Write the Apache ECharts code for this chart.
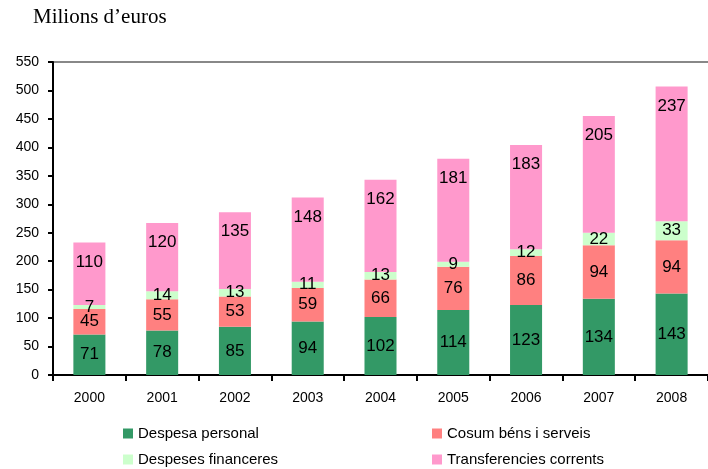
<!DOCTYPE html>
<html>
<head>
<meta charset="utf-8">
<script src="https://cdn.jsdelivr.net/npm/echarts@6/dist/echarts.min.js"></script>
<style>
  html, body { margin: 0; padding: 0; background: #fff; }
  #chart { width: 708px; height: 469px; }
</style>
</head>
<body>
<div id="chart"></div>
<script>
// years on the x axis
const years = ['2000', '2001', '2002', '2003', '2004', '2005', '2006', '2007', '2008'];

// stacked series, bottom to top
const despesaPersonal = [71, 78, 85, 94, 102, 114, 123, 134, 143];
const cosumBens = [45, 55, 53, 59, 66, 76, 86, 94, 94];
const despesesFinanceres = [7, 14, 13, 11, 13, 9, 12, 22, 33];
const transferencies = [110, 120, 135, 148, 162, 181, 183, 205, 237];

const seriesNames = ['Despesa personal', 'Cosum béns i serveis', 'Despeses financeres', 'Transferencies corrents'];
const seriesColors = ['#339966', '#ff8080', '#ccffcc', '#ff99cc'];

const chart = echarts.init(document.getElementById('chart'));

function makeSeries(name, data, color, labelPos) {
  return {
    name: name,
    type: 'bar',
    stack: 'total',
    barWidth: '44%',
    data: data,
    itemStyle: { color: color },
    label: {
      show: true,
      position: labelPos || 'inside',
      distance: 11,
      color: '#000',
      fontFamily: 'Liberation Sans',
      fontSize: 17,
    },
  };
}

const option = {
  animation: false,
  title: {
    text: 'Milions d\u2019euros',
    left: 28,
    top: 2,
    textStyle: {
      fontFamily: 'Liberation Serif',
      fontWeight: 'normal',
      fontSize: 21,
      color: '#000',
    },
  },
  grid: {
    left: 53,
    right: 0,
    top: 62,
    bottom: 94,
  },
  xAxis: {
    type: 'category',
    data: years,
    axisLine: { lineStyle: { color: '#000', width: 2 } },
    axisTick: { show: true, alignWithLabel: false, length: 6, lineStyle: { color: '#000', width: 2 } },
    axisLabel: { color: '#000', fontFamily: 'Liberation Sans', fontSize: 14, margin: 16 },
  },
  yAxis: {
    type: 'value',
    min: 0,
    max: 550,
    interval: 50,
    axisLine: { show: true, lineStyle: { color: '#000', width: 2 } },
    axisTick: { show: true, length: 5, lineStyle: { color: '#000', width: 2 } },
    axisLabel: { color: '#000', fontFamily: 'Liberation Sans', fontSize: 14, margin: 14 },
    splitLine: { show: false },
  },
  graphic: [
    {
      type: 'line',
      shape: { x1: 53, y1: 62, x2: 708, y2: 62 },
      style: { stroke: '#888', lineWidth: 2 },
      z: -1,
    },
  ],
  series: [
    makeSeries(seriesNames[0], despesaPersonal, seriesColors[0]),
    makeSeries(seriesNames[1], cosumBens, seriesColors[1]),
    makeSeries(seriesNames[2], despesesFinanceres, seriesColors[2]),
    makeSeries(seriesNames[3], transferencies, seriesColors[3], 'insideTop'),
  ],
};

// two-column legend, built as separate legend components
const legendPos = [
  { left: 118, top: 421 },
  { left: 427, top: 421 },
  { left: 118, top: 447 },
  { left: 427, top: 447 },
];
option.legend = seriesNames.map((name, i) => ({
  data: [name],
  left: legendPos[i].left,
  top: legendPos[i].top,
  icon: 'rect',
  itemWidth: 10,
  itemHeight: 10,
  itemGap: 4,
  textStyle: { color: '#000', fontFamily: 'Liberation Sans', fontSize: 15 },
  selectedMode: false,
}));

chart.setOption(option);
</script>
</body>
</html>
